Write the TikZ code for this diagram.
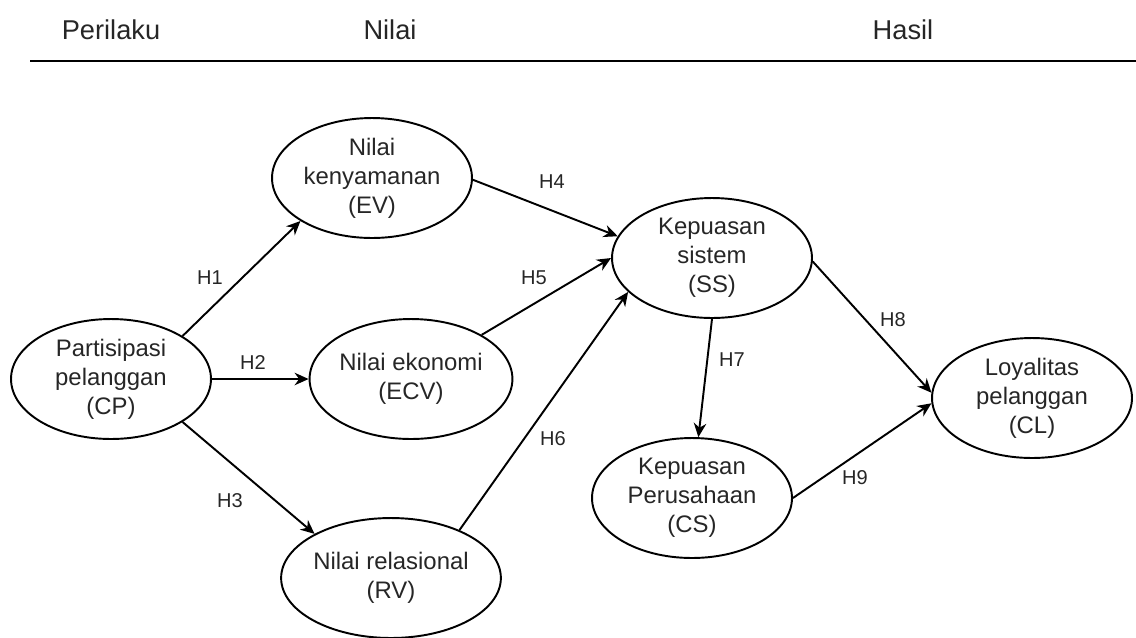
\documentclass[tikz,border=0pt]{standalone}
\usepackage{fontspec}
\setmainfont{Liberation Sans}
\usetikzlibrary{arrows.meta,shapes.geometric}
\tikzset{>={Stealth[length=2.8mm,width=2.5mm,inset=0.9mm]}}
\tikzset{
  construct/.style={ellipse,draw,line width=1.1pt,minimum width=4cm,minimum height=2.4cm,
    inner sep=0pt,align=center,text=black!85,font=\fontsize{13.6}{16.4}\selectfont},
  hyp/.style={->,line width=1.1pt},
  hlabel/.style={text=black!85,font=\fontsize{11.4}{13}\selectfont},
  header/.style={text=black!85,font=\fontsize{15.5}{18}\selectfont}
}

\begin{document}
\begin{tikzpicture}[x=0.02cm,y=-0.02cm]
    \useasboundingbox (0,0) rectangle (1136,637);
    % column headings
    \node[header] (perilaku) at (111,30) {Perilaku};
    \node[header] (nilai) at (390,30) {Nilai};
    \node[header] (hasil) at (903,30) {Hasil};
    \coordinate (rulel) at (30,61);
    \coordinate (ruler) at (1136,61);
    \draw[line width=1.6pt] (rulel) -- (ruler);
    % constructs
    \node[construct] (cp) at (111,379) {Partisipasi\\pelanggan\\(CP)};
    \node[construct] (ev) at (372,178) {Nilai\\kenyamanan\\(EV)};
    \node[construct] (ecv) at (411,379) {Nilai ekonomi\\(ECV)};
    \node[construct] (rv) at (391,578) {Nilai relasional\\(RV)};
    \node[construct] (ss) at (712,258) {Kepuasan\\sistem\\(SS)};
    \node[construct] (cs) at (692,498) {Kepuasan\\Perusahaan\\(CS)};
    \node[construct] (cl) at (1032,398) {Loyalitas\\pelanggan\\(CL)};
    % hypotheses
    \draw[hyp] (cp.31) -- (ev.211);
    \draw[hyp] (cp.east) -- (ecv.west);
    \draw[hyp] (cp.-31) -- (rv.150);
    \draw[hyp] (ev.-1) -- (ss.167);
    \draw[hyp] (ecv.32) -- (ss.180);
    \draw[hyp] (rv.35) -- (ss.202);
    \draw[hyp] (ss.south) -- (cs.84);
    \draw[hyp] (ss.-2) -- (cl.177);
    \draw[hyp] (cs.east) -- (cl.183);
    \node[hlabel] (h1) at (210,278) {H1};
    \node[hlabel] (h2) at (253,362) {H2};
    \node[hlabel] (h3) at (230,501) {H3};
    \node[hlabel] (h4) at (552,182) {H4};
    \node[hlabel] (h5) at (534,278) {H5};
    \node[hlabel] (h6) at (553,439) {H6};
    \node[hlabel] (h7) at (732,360) {H7};
    \node[hlabel] (h8) at (893,320) {H8};
    \node[hlabel] (h9) at (855,478) {H9};
\end{tikzpicture}
\end{document}
